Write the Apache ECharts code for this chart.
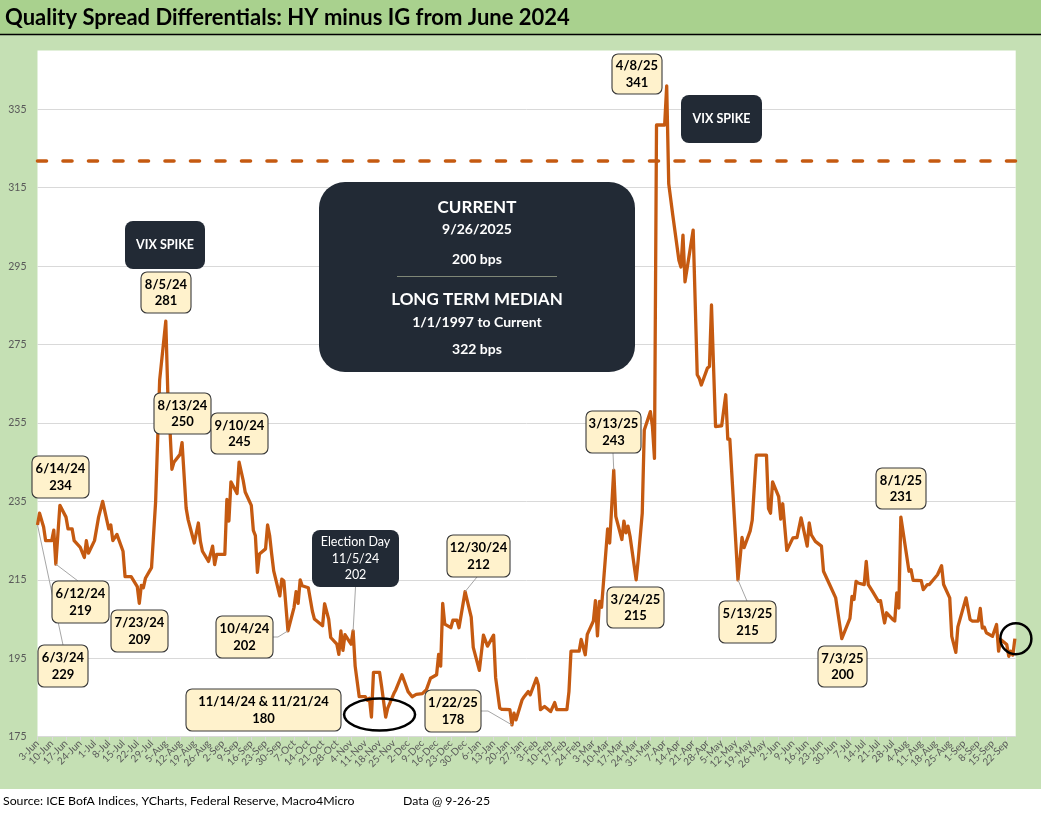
<!DOCTYPE html>
<html>
<head>
<meta charset="utf-8">
<title>Quality Spread Differentials: HY minus IG from June 2024</title>
<script src="https://cdn.jsdelivr.net/npm/echarts@6/dist/echarts.min.js"></script>
<style>
  html, body { margin: 0; padding: 0; background: #fff; }
  #chart { width: 1041px; height: 818px; }
</style>
</head>
<body>
<div id="chart"></div>
<script>
// HY minus IG OAS differential (bps)
var dates = [
  '2024-06-03','2024-06-04','2024-06-06','2024-06-07','2024-06-10','2024-06-11','2024-06-12','2024-06-14',
  '2024-06-17','2024-06-18','2024-06-20','2024-06-21','2024-06-24','2024-06-26','2024-06-27','2024-06-28',
  '2024-07-01','2024-07-03','2024-07-05','2024-07-08','2024-07-09','2024-07-10','2024-07-12','2024-07-15',
  '2024-07-16','2024-07-19','2024-07-22','2024-07-23','2024-07-24','2024-07-25','2024-07-26','2024-07-29',
  '2024-07-31','2024-08-01','2024-08-02','2024-08-05','2024-08-06','2024-08-07','2024-08-08','2024-08-09',
  '2024-08-12','2024-08-13','2024-08-15','2024-08-16','2024-08-19','2024-08-21','2024-08-22','2024-08-23',
  '2024-08-26','2024-08-28','2024-08-29','2024-08-30','2024-09-03','2024-09-04','2024-09-05','2024-09-06',
  '2024-09-09','2024-09-10','2024-09-12','2024-09-13','2024-09-16','2024-09-17','2024-09-18','2024-09-19',
  '2024-09-20','2024-09-23','2024-09-24','2024-09-25','2024-09-26','2024-09-27','2024-09-30','2024-10-01',
  '2024-10-02','2024-10-04','2024-10-07','2024-10-08','2024-10-09','2024-10-10','2024-10-11','2024-10-14',
  '2024-10-16','2024-10-17','2024-10-21','2024-10-22','2024-10-24','2024-10-25','2024-10-28','2024-10-29',
  '2024-10-30','2024-10-31','2024-11-01','2024-11-04','2024-11-05','2024-11-06','2024-11-08','2024-11-11',
  '2024-11-12','2024-11-13','2024-11-14','2024-11-15','2024-11-18','2024-11-19','2024-11-21','2024-11-22',
  '2024-11-25','2024-11-26','2024-11-29','2024-12-02','2024-12-04','2024-12-06','2024-12-09','2024-12-11',
  '2024-12-13','2024-12-16','2024-12-17','2024-12-18','2024-12-19','2024-12-20','2024-12-23','2024-12-24',
  '2024-12-26','2024-12-27','2024-12-30','2025-01-02','2025-01-03','2025-01-06','2025-01-08','2025-01-10',
  '2025-01-13','2025-01-14','2025-01-16','2025-01-17','2025-01-21','2025-01-22','2025-01-23','2025-01-24',
  '2025-01-27','2025-01-28','2025-01-30','2025-01-31','2025-02-03','2025-02-04','2025-02-05','2025-02-07',
  '2025-02-10','2025-02-12','2025-02-13','2025-02-18','2025-02-19','2025-02-20','2025-02-24','2025-02-25',
  '2025-02-27','2025-02-28','2025-03-03','2025-03-04','2025-03-05','2025-03-06','2025-03-07','2025-03-10',
  '2025-03-11','2025-03-13','2025-03-14','2025-03-17','2025-03-18','2025-03-19','2025-03-20','2025-03-21',
  '2025-03-24','2025-03-25','2025-03-27','2025-03-28','2025-03-31','2025-04-01','2025-04-02','2025-04-03',
  '2025-04-04','2025-04-07','2025-04-08','2025-04-09','2025-04-11','2025-04-14','2025-04-15','2025-04-16',
  '2025-04-17','2025-04-21','2025-04-23','2025-04-24','2025-04-25','2025-04-28','2025-04-29','2025-04-30',
  '2025-05-02','2025-05-05','2025-05-07','2025-05-08','2025-05-09','2025-05-13','2025-05-14','2025-05-15',
  '2025-05-16','2025-05-19','2025-05-20','2025-05-22','2025-05-27','2025-05-28','2025-05-29','2025-05-30',
  '2025-06-02','2025-06-03','2025-06-04','2025-06-06','2025-06-09','2025-06-11','2025-06-13','2025-06-16',
  '2025-06-17','2025-06-18','2025-06-20','2025-06-23','2025-06-24','2025-06-27','2025-06-30','2025-07-03',
  '2025-07-07','2025-07-08','2025-07-09','2025-07-10','2025-07-11','2025-07-14','2025-07-15','2025-07-16',
  '2025-07-18','2025-07-21','2025-07-22','2025-07-24','2025-07-25','2025-07-28','2025-07-29','2025-07-30',
  '2025-07-31','2025-08-01','2025-08-05','2025-08-06','2025-08-07','2025-08-11','2025-08-12','2025-08-14',
  '2025-08-15','2025-08-19','2025-08-21','2025-08-22','2025-08-25','2025-08-26','2025-08-28','2025-08-29',
  '2025-09-02','2025-09-04','2025-09-05','2025-09-08','2025-09-09','2025-09-10','2025-09-11','2025-09-12',
  '2025-09-15','2025-09-17','2025-09-18','2025-09-19','2025-09-22','2025-09-23','2025-09-24','2025-09-25',
  '2025-09-26'
];
var spread = [
  229, 232, 228.5, 225, 225, 227.7, 219, 234,
  231, 228, 228, 225, 223.3, 220.7, 225, 221.8,
  225, 231, 235, 228, 229, 225, 226.6, 222.3,
  215.8, 215.8, 213.3, 209, 213.6, 213, 215.4, 218.1,
  234.8, 250.6, 266, 281, 262.6, 254, 243.2, 245,
  247, 250, 233.3, 230.3, 224.4, 229.5, 224.8, 222.3,
  219.7, 223.6, 218.9, 221.5, 221.5, 235.5, 230, 240,
  237, 245, 240.4, 237.4, 234, 227.6, 226.3, 216.9,
  221.6, 222.9, 229, 226.3, 221.6, 217.3, 210.9, 215.2,
  214.7, 202, 208, 212, 209, 215, 213.5, 213,
  207, 205, 203.3, 208.9, 205, 200.3, 198.6, 196,
  202, 197, 201, 198.6, 202, 193, 185.2, 185.2,
  184.3, 184.8, 180, 191.4, 191.4, 187.8, 180, 182.3,
  186, 187, 190.8, 186.5, 185.2, 185.8, 186, 187,
  189.9, 190.8, 196, 193, 209, 203.7, 202.8, 204.7,
  204.7, 202.8, 212, 205.5, 197.8, 191.9, 200.9, 198.1,
  200.9, 190, 182.3, 182, 181.9, 178, 181, 179.3,
  184.4, 185.2, 186.5, 185.7, 189.9, 188.2, 181.9, 182.7,
  181.4, 183.7, 181.9, 181.9, 186.5, 196.8, 196.8, 199.8,
  195.9, 201.1, 204.5, 209.7, 200.7, 209.5, 208, 228,
  224.4, 243, 231.2, 225.3, 230, 227, 228.7, 226.1,
  215, 220.1, 232, 253.2, 257.9, 254.1, 246, 331,
  331, 331, 341, 316, 308, 296.5, 294.8, 302.9,
  291, 304.2, 267.3, 266.4, 264.7, 269, 269.4, 285.1,
  254.1, 254.3, 262.2, 250.9, 250.9, 215, 220.3, 225.8,
  223.2, 227.5, 230.2, 246.8, 246.8, 233.2, 232, 240,
  236.2, 230.5, 234.4, 222.5, 225.7, 225.8, 230.8, 223.6,
  229.5, 226.5, 224.8, 223.6, 217.2, 213.8, 210.4, 200,
  205.2, 210.8, 210, 214.6, 214.2, 213.8, 219.7, 213.8,
  212.1, 209.5, 209.7, 204, 206.6, 204.9, 204.5, 211.7,
  207.8, 231, 217.2, 217.6, 214.9, 214.8, 212.5, 213.8,
  213.8, 216.3, 218.6, 213.8, 210.4, 200.6, 196.5, 203,
  210.4, 204.9, 204.5, 204.5, 207.7, 202.7, 202.9, 201.5,
  200.6, 203.6, 196.8, 199.8, 198.5, 195.5, 196.8, 195.8,
  200
];
var medianLevel = 322;          // long term median, 1/1/1997 to current
var medianFrom = '1/1/1997';
var yMin = 175, yMax = 350, yStep = 20;
var axisStart = '2024-06-03';   // first weekly tick (Monday)
var weekStep = 7;

var FONT = "Lato, 'Noto Sans', sans-serif";
var MON = ['Jan','Feb','Mar','Apr','May','Jun','Jul','Aug','Sep','Oct','Nov','Dec'];

function toUTC(s) { var p = s.split('-'); return Date.UTC(+p[0], +p[1] - 1, +p[2]); }
var t0 = toUTC(axisStart);
function dayIndex(s) { return Math.round((toUTC(s) - t0) / 864e5); }
function shortDate(s, fullYear) {
  var p = s.split('-');
  return (+p[1]) + '/' + (+p[2]) + '/' + (fullYear ? p[0] : p[0].slice(2));
}
function valueOn(s) { return spread[dates.indexOf(s)]; }
function tickLabel(v) {
  if (Math.abs(v % weekStep) > 1e-6) return '';
  var d = new Date(t0 + v * 864e5);
  return d.getUTCDate() + '-' + MON[d.getUTCMonth()];
}
function fitSize(text, weight, target, guess) {
  var c = document.createElement('canvas').getContext('2d');
  c.font = weight + ' ' + guess + 'px ' + FONT;
  return guess * target / c.measureText(text).width;
}

var points = dates.map(function (d, i) { return [dayIndex(d), spread[i]]; });
var lastDate = dates[dates.length - 1];

var chart = echarts.init(document.getElementById('chart'));

var option = {
  animation: false,
  backgroundColor: '#C5E0B4',
  grid: {
    left: 37.5, right: 25.3, top: 50.5, bottom: 81.3,
    containLabel: false, outerBoundsMode: 'none',
    show: true, backgroundColor: '#ffffff', borderWidth: 0
  },
  xAxis: {
    type: 'value',
    min: 0,
    max: dayIndex(lastDate) + 0.4,
    interval: weekStep,
    axisLine: { show: true, lineStyle: { color: '#d9d9d9', width: 1 } },
    axisTick: { show: true, length: 4, lineStyle: { color: '#d9d9d9' } },
    splitLine: { show: false },
    axisLabel: {
      rotate: 45, margin: 5, fontSize: 10, color: '#595959', fontFamily: FONT,
      showMinLabel: true, showMaxLabel: false, hideOverlap: false, formatter: tickLabel
    }
  },
  yAxis: {
    type: 'value',
    min: yMin, max: yMax, interval: yStep,
    axisLine: { show: false },
    axisTick: { show: false },
    splitLine: { show: true, showMinLine: false, showMaxLine: false, lineStyle: { color: '#d9d9d9', width: 1 } },
    axisLabel: {
      margin: 11, fontSize: 10.5, color: '#595959', fontFamily: FONT, showMaxLabel: false,
      formatter: function (v) { return (v - yMin) % yStep === 0 ? String(v) : ''; }
    }
  },
  series: [{
    type: 'line',
    data: points,
    showSymbol: false,
    z: 3,
    lineStyle: { color: '#C55A11', width: 3.3, join: 'round' },
    itemStyle: { color: '#C55A11' },
    markLine: {
      silent: true,
      symbol: 'none',
      label: { show: false },
      lineStyle: { color: '#C55A11', width: 3.6, type: [9, 16.5], cap: 'round' },
      data: [{ yAxis: medianLevel }]
    }
  }]
};
chart.setOption(option);

// ---- annotations (layout in pixels, anchors taken from the data) ----
function px(d) {
  return chart.convertToPixel({ xAxisIndex: 0, yAxisIndex: 0 }, [dayIndex(d), valueOn(d)]);
}
function box(b, fill, stroke, r) {
  return { type: 'rect', z: 110, shape: { x: b[0], y: b[1], width: b[2], height: b[3], r: r },
    style: { fill: fill, stroke: stroke, lineWidth: stroke ? 1.1 : 0 } };
}
function label(x, y, s, font, fill, lh) {
  return { type: 'text', z: 120, x: x, y: y,
    style: { text: s, font: font, fill: fill, align: 'center', verticalAlign: 'middle',
      textAlign: 'center', textVerticalAlign: 'middle', lineHeight: lh || 16 } };
}
function leader(from, pts) {
  return { type: 'polyline', z: 105, shape: { points: [from].concat(pts) },
    style: { stroke: '#a6a6a6', lineWidth: 1, fill: null } };
}

var notes = [
  { d: ['2024-06-03'], box: [38, 645, 50, 42], lead: [[63, 645]] },
  { d: ['2024-06-12'], box: [52, 581, 57, 42], lead: [[78, 581]] },
  { d: ['2024-06-14'], box: [32, 456, 57, 42] },
  { d: ['2024-07-23'], box: [111, 610, 57, 42] },
  { d: ['2024-08-05'], box: [141, 272, 50, 41] },
  { d: ['2024-08-13'], box: [154, 393, 57, 41] },
  { d: ['2024-09-10'], box: [211, 413, 57, 41] },
  { d: ['2024-10-04'], box: [216, 616, 57, 42], lead: [[278, 637], [273, 637]] },
  { d: ['2024-11-14', '2024-11-21'], box: [186, 689, 155, 42] },
  { d: ['2024-12-30'], box: [447, 535, 63, 42], lead: [[477, 577]] },
  { d: ['2025-01-22'], box: [425, 690, 56, 42], lead: [[488, 711], [481, 711]] },
  { d: ['2025-03-13'], box: [586, 411, 55, 42], lead: [[613, 453]] },
  { d: ['2025-03-24'], box: [607, 587, 57, 41] },
  { d: ['2025-04-08'], box: [612, 54, 50, 40] },
  { d: ['2025-05-13'], box: [719, 601, 57, 42], lead: [[747, 601]] },
  { d: ['2025-07-03'], box: [818, 646, 49, 41] },
  { d: ['2025-08-01'], box: [876, 468, 50, 41] }
];

var W = 1041, H = 818;
var titleText = 'Quality Spread Differentials: HY minus IG from June 2024';
var sourceText = 'Source: ICE BofA Indices, YCharts, Federal Reserve, Macro4Micro';
var srcFont = fitSize(sourceText, 'normal', 352, 12).toFixed(1) + 'px ' + FONT;
var els = [
  { type: 'rect', z: 1, shape: { x: 0, y: 0, width: W, height: 34 }, style: { fill: '#A9D18E' } },
  { type: 'line', z: 2, shape: { x1: 0, y1: 34.5, x2: W, y2: 34.5 }, style: { stroke: '#000', lineWidth: 1.5 } },
  { type: 'rect', z: 1, shape: { x: 0, y: 789, width: W, height: H - 789 }, style: { fill: '#ffffff' } },
  { type: 'text', z: 3, x: 5, y: 18,
    style: { text: titleText, font: 'bold ' + fitSize(titleText, 'bold', 566, 22).toFixed(1) + 'px ' + FONT,
      fill: '#000', align: 'left', verticalAlign: 'middle', textAlign: 'left', textVerticalAlign: 'middle' } },
  { type: 'text', z: 3, x: 3, y: 801,
    style: { text: sourceText, font: srcFont,
      fill: '#000', align: 'left', verticalAlign: 'middle', textAlign: 'left', textVerticalAlign: 'middle' } },
  { type: 'text', z: 3, x: 403, y: 801,
    style: { text: 'Data @ ' + (+lastDate.slice(5, 7)) + '-' + (+lastDate.slice(8)) + '-' + lastDate.slice(2, 4),
      font: srcFont,
      fill: '#000', align: 'left', verticalAlign: 'middle', textAlign: 'left', textVerticalAlign: 'middle' } }
];

notes.forEach(function (n) {
  var b = n.box;
  var head = n.d.map(function (d) { return shortDate(d); }).join(' & ');
  var s = head + '\n' + Math.round(valueOn(n.d[0]));
  if (n.lead) els.push(leader(px(n.d[0]), n.lead));
  els.push(box(b, '#FFF2CC', '#3a3a3a', 6));
  els.push(label(b[0] + b[2] / 2, b[1] + b[3] / 2 + 0.5, s, 'bold 13px ' + FONT, '#000', 16.5));
});

// dark boxes
var DARK = '#222A35';
[[125, 221, 80, 48], [681, 95, 81, 48]].forEach(function (b) {
  els.push(box(b, DARK, null, 8));
  els.push(label(b[0] + b[2] / 2, b[1] + b[3] / 2, 'VIX SPIKE', 'bold 12.5px ' + FONT, '#fff'));
});
var elec = '2024-11-05', eb = [312, 530, 87, 57];
els.push(leader(px(elec), [[355.5, 587]]));
els.push(box(eb, DARK, null, 8));
els.push(label(eb[0] + eb[2] / 2, eb[1] + eb[3] / 2, 'Election Day\n' + shortDate(elec) + '\n' + Math.round(valueOn(elec)),
  '12.5px ' + FONT, '#fff', 16.5));

// current vs median panel
var cb = [319, 182, 316, 190], cx = cb[0] + cb[2] / 2;
els.push(box(cb, DARK, null, 26));
els.push(label(cx, 208, 'CURRENT', 'bold 17px ' + FONT, '#fff'));
els.push(label(cx, 229.5, shortDate(lastDate, true), 'bold 14px ' + FONT, '#fff'));
els.push(label(cx, 259, Math.round(valueOn(lastDate)) + ' bps', 'bold 14px ' + FONT, '#fff'));
els.push({ type: 'line', z: 115, shape: { x1: 397, y1: 276.5, x2: 557, y2: 276.5 }, style: { stroke: '#7f8777', lineWidth: 1.2 } });
els.push(label(cx, 300, 'LONG TERM MEDIAN', 'bold 17px ' + FONT, '#fff'));
els.push(label(cx, 322.5, medianFrom + ' to Current', 'bold 14px ' + FONT, '#fff'));
els.push(label(cx, 349, medianLevel + ' bps', 'bold 14px ' + FONT, '#fff'));

// ellipse round the November lows, circle round the latest print
var a = px('2024-11-14'), c = px('2024-11-21');
els.push({ type: 'ellipse', z: 108, shape: { cx: (a[0] + c[0]) / 2 + 1, cy: (a[1] + c[1]) / 2 - 2.5, rx: 35.5, ry: 16 },
  style: { fill: 'transparent', stroke: '#000', lineWidth: 2.5 } });
var e = px(lastDate);
els.push({ type: 'circle', z: 108, shape: { cx: e[0] + 1, cy: e[1], r: 15.5 },
  style: { fill: 'transparent', stroke: '#000', lineWidth: 2.5 } });

chart.setOption({ graphic: { elements: els } });
</script>
</body>
</html>
